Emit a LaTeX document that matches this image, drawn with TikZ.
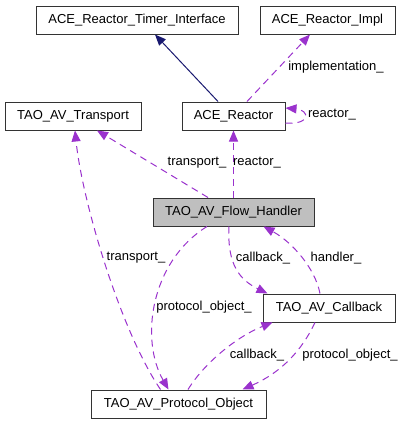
\documentclass[tikz,border=0pt]{standalone}
\usepackage{fontspec}
\setmainfont{Liberation Sans}
\usetikzlibrary{arrows.meta}
\definecolor{edgepurple}{HTML}{9A32CD}
\definecolor{navyblue}{HTML}{191970}
\definecolor{boxgray}{HTML}{BFBFBF}
\begin{document}
\begin{tikzpicture}[x=1pt,y=-1pt,
  cls/.style={draw=black!80,line width=1pt,rectangle,minimum height=28pt,inner sep=0pt,font=\fontsize{13}{15}\selectfont},
  rel/.style={edgepurple,line width=1pt,dash pattern=on 7pt off 5pt,-{Triangle[length=11pt,width=9pt]}},
  inh/.style={navyblue,line width=1pt,-{Triangle[length=11pt,width=9pt]}},
  lab/.style={font=\fontsize{13}{15}\selectfont,inner sep=1pt,text=black}]
\useasboundingbox (0,0) rectangle (404,424);
\node[cls,minimum width=202pt] (timer) at (137,20) {ACE\_Reactor\_Timer\_Interface};
\node[cls,minimum width=135pt] (impl) at (327.5,20) {ACE\_Reactor\_Impl};
\node[cls,minimum width=136pt] (transport) at (73,116) {TAO\_AV\_Transport};
\node[cls,minimum width=103pt] (reactor) at (233.5,116) {ACE\_Reactor};
\node[cls,minimum width=161pt,fill=boxgray] (flow) at (233.5,212) {TAO\_AV\_Flow\_Handler};
\node[cls,minimum width=132pt] (callback) at (329,308) {TAO\_AV\_Callback};
\node[cls,minimum width=175pt] (protocol) at (178.5,404) {TAO\_AV\_Protocol\_Object};

% inheritance
\draw[inh] ([xshift=-15.5pt]reactor.north) -- ([xshift=18pt]timer.south);
% implementation_
\draw[rel] ([xshift=13.5pt]reactor.north) -- ([xshift=-17.5pt]impl.south);
\node[lab] (limpl) at (336,67) {implementation\_};
% self loop
\draw[rel] ([yshift=-7pt]reactor.east) .. controls ([xshift=26pt,yshift=-9pt]reactor.east) and ([xshift=24pt,yshift=6pt]reactor.east) .. ([yshift=8pt]reactor.east);
\node[lab] (lself) at (332,115) {reactor\_};
% flow -> reactor
\draw[rel] (flow.north) -- (reactor.south);
\node[lab] (lreact) at (257,163) {reactor\_};
% flow -> transport
\draw[rel] ([xshift=-25.5pt]flow.north) -- ([xshift=24pt]transport.south);
\node[lab] (ltr1) at (197,163) {transport\_};
% protocol -> transport
\draw[rel] ([xshift=-18pt]protocol.north) .. controls (120,330) and (82,200) .. ([xshift=2pt]transport.south);
\node[lab] (ltr2) at (136,258) {transport\_};
% flow -> protocol
\draw[rel] ([xshift=-26.5pt]flow.south) .. controls (150,262) and (140,340) .. ([xshift=-10pt]protocol.north);
\node[lab] (lpo1) at (204,307) {protocol\_object\_};
% flow -> callback
\draw[rel] ([xshift=-4.5pt]flow.south) .. controls (227,265) and (240,280) .. ([xshift=5pt]callback.north west);
\node[lab] (lcb1) at (263,258) {callback\_};
% callback -> flow
\draw[rel] ([xshift=-9pt]callback.north) .. controls (315,268) and (292,242) .. ([xshift=30pt]flow.south);
\node[lab] (lhd) at (336,258) {handler\_};
% protocol -> callback
\draw[rel] ([xshift=9.5pt]protocol.north) .. controls (205,362) and (238,336) .. ([xshift=10pt]callback.south west);
\node[lab] (lcb2) at (257,355) {callback\_};
% callback -> protocol
\draw[rel] ([xshift=-14pt]callback.south) .. controls (302,350) and (282,372) .. ([xshift=64pt]protocol.north);
\node[lab] (lpo2) at (350,355) {protocol\_object\_};
\end{tikzpicture}
\end{document}
